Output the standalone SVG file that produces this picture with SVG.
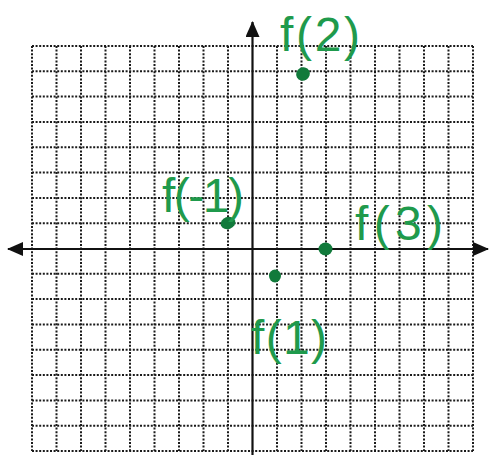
<svg xmlns="http://www.w3.org/2000/svg" width="489" height="455" viewBox="0 0 489 455">
<style>
.grid{stroke:#1a1a1a;stroke-width:2;stroke-dasharray:2 1.6;fill:none}
.axis{stroke:#111;stroke-width:2.2;fill:none}
.lbl{font-family:"Liberation Sans",Arial,sans-serif;font-size:48px;fill:#1f9a4c}
.pt{fill:#117a3b}
</style>
<defs>
<marker id="arr" viewBox="0 0 16 14" refX="15" refY="7" markerWidth="16" markerHeight="14" orient="auto-start-reverse" markerUnits="userSpaceOnUse">
<path d="M0,0 L16,7 L0,14 Z" fill="#111"/>
</marker>
</defs>
<g id="grid">
<path class="grid" d="M32,46V451M56.5,46V451M81,46V451M105.5,46V451M130,46V451M154.5,46V451M179,46V451M203.5,46V451M228,46V451M277,46V451M301.5,46V451M326,46V451M350.5,46V451M375,46V451M399.5,46V451M424,46V451M448.5,46V451M473,46V451"/>
<path class="grid" d="M32,46H473M32,71.3H473M32,96.6H473M32,121.9H473M32,147.3H473M32,172.6H473M32,197.9H473M32,223.2H473M32,273.8H473M32,299.1H473M32,324.4H473M32,349.7H473M32,375.1H473M32,400.4H473M32,425.7H473M32,451H473"/>
</g>
<g id="axes">
<line class="axis" x1="8" y1="249" x2="488" y2="249" marker-start="url(#arr)" marker-end="url(#arr)"/>
<line class="axis" x1="252.5" y1="455" x2="252.5" y2="22" marker-end="url(#arr)"/>
</g>
<g id="f2">
<ellipse class="pt" cx="303" cy="74" rx="7" ry="6.5" transform="rotate(-30 303 74)"/>
<text class="lbl" x="280" y="51" textLength="80" lengthAdjust="spacing">f(2)</text>
</g>
<g id="fm1">
<ellipse class="pt" cx="228" cy="223" rx="7.5" ry="6" transform="rotate(-20 228 223)"/>
<text class="lbl" x="162" y="212" textLength="82" lengthAdjust="spacing">f(-1)</text>
</g>
<g id="f3">
<ellipse class="pt" cx="325.5" cy="249" rx="7" ry="6.5"/>
<text class="lbl" x="355" y="240" textLength="88" lengthAdjust="spacing">f(3)</text>
</g>
<g id="f1">
<ellipse class="pt" cx="275" cy="276" rx="6" ry="6.5"/>
<text class="lbl" x="251" y="354" textLength="76" lengthAdjust="spacing">f(1)</text>
</g>
</svg>
